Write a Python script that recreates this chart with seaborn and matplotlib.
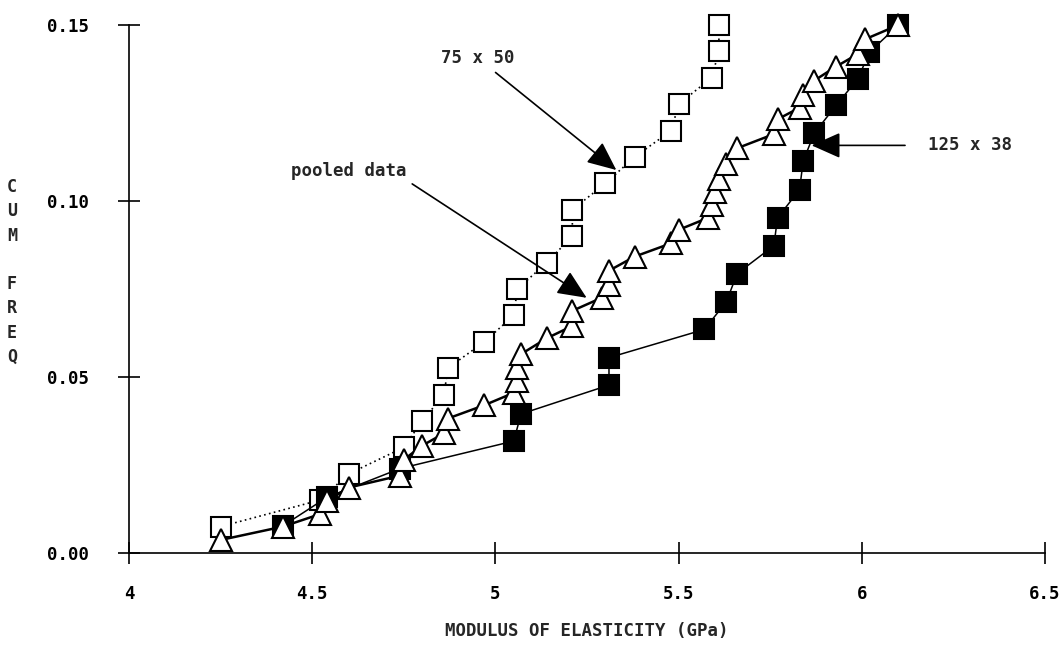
import numpy as np
import pandas as pd
import matplotlib
matplotlib.use('Agg')
import matplotlib.pyplot as plt
import seaborn as sns

# ─── Data ────────────────────────────────────────────────
# 75 x 50 (open squares, dotted line)
x_75x50 = [4.25, 4.52, 4.60, 4.75, 4.80, 4.86, 4.87, 4.97, 5.05, 5.06,
           5.14, 5.21, 5.21, 5.30, 5.38, 5.48, 5.50, 5.59, 5.61, 5.61]
y_75x50 = [0.0075, 0.0150, 0.0225, 0.0300, 0.0375, 0.0450, 0.0525, 0.0600, 0.0675, 0.0750,
           0.0825, 0.0900, 0.0975, 0.1050, 0.1125, 0.1200, 0.1275, 0.1350, 0.1425, 0.1500]

# 125 x 38 (filled squares, thin solid line)
x_125x38 = [4.42, 4.54, 4.74, 5.05, 5.07, 5.31, 5.31, 5.57, 5.63, 5.66,
            5.76, 5.77, 5.83, 5.84, 5.87, 5.93, 5.99, 6.02, 6.10]
y_125x38 = [0.0077, 0.0158, 0.0240, 0.0318, 0.0395, 0.0477, 0.0555, 0.0635, 0.0713, 0.0794,
            0.0873, 0.0952, 0.1032, 0.1113, 0.1192, 0.1272, 0.1348, 0.1422, 0.1500]

# pooled data (open triangles, thick solid line)
x_pooled = [4.25, 4.42, 4.52, 4.54, 4.60, 4.74, 4.75, 4.80, 4.86, 4.87,
            4.97, 5.05, 5.06, 5.06, 5.07, 5.14, 5.21, 5.21, 5.29, 5.31,
            5.31, 5.38, 5.48, 5.50, 5.58, 5.59, 5.60, 5.61, 5.63, 5.66,
            5.76, 5.77, 5.83, 5.84, 5.87, 5.93, 5.99, 6.01, 6.10]
y_pooled = [0.0037, 0.0075, 0.0110, 0.0148, 0.0186, 0.0220, 0.0265, 0.0305, 0.0340, 0.0382,
            0.0420, 0.0455, 0.0490, 0.0525, 0.0565, 0.0610, 0.0645, 0.0688, 0.0725, 0.0760,
            0.0802, 0.0842, 0.0880, 0.0918, 0.0952, 0.0988, 0.1025, 0.1063, 0.1105, 0.1150,
            0.1190, 0.1232, 0.1265, 0.1302, 0.1342, 0.1382, 0.1418, 0.1460, 0.1500]

x_ticks = [4, 4.5, 5, 5.5, 6, 6.5]
x_tick_labels = ['4', '4.5', '5', '5.5', '6', '6.5']
y_ticks = [0.00, 0.05, 0.10, 0.15]
y_tick_labels = ['0.00', '0.05', '0.10', '0.15']

# ─── Style ───────────────────────────────────────────────
sns.set_style('white')
plt.rcParams['font.family'] = ['DejaVu Sans Mono']
plt.rcParams['font.weight'] = 'bold'

fig = plt.figure(figsize=(10.62, 6.51), dpi=100)
ax = fig.add_axes([129 / 1062, 1 - 553 / 651, (1045 - 129) / 1062, (553 - 25) / 651])

common = dict(ax=ax, estimator=None, sort=False, color='black', clip_on=False)

sns.lineplot(x=x_75x50, y=y_75x50, linestyle=(0, (1, 2)), lw=1.2,
             marker='s', ms=14.5, mfc='white', mec='black', mew=1.5, zorder=2, **common)
sns.lineplot(x=x_125x38, y=y_125x38, lw=1.1,
             marker='s', ms=14.5, mfc='black', mec='black', mew=1.5, zorder=3, **common)
sns.lineplot(x=x_pooled, y=y_pooled, lw=1.8,
             marker='^', ms=15.5, mfc='white', mec='black', mew=1.5, zorder=4, **common)

ax.set_xlim(4, 6.5)
ax.set_ylim(0, 0.15)
ax.set_xticks(x_ticks)
ax.set_xticklabels(x_tick_labels)
ax.set_yticks(y_ticks)
ax.set_yticklabels(y_tick_labels)
ax.tick_params(axis='both', direction='inout', length=16, width=1.2,
               labelsize=12.5, colors='black', bottom=True, left=True)
ax.tick_params(axis='y', pad=21)
ax.tick_params(axis='x', pad=15)

for side in ['top', 'right']:
    ax.spines[side].set_visible(False)
for side in ['left', 'bottom']:
    ax.spines[side].set_linewidth(1.2)
    ax.spines[side].set_color('black')

ax.set_xlabel('MODULUS OF ELASTICITY (GPa)', fontsize=12.5, fontweight='bold', labelpad=14)
fig.text(12 / 1062, 1 - 272 / 651, 'C\nU\nM\n\nF\nR\nE\nQ', ha='center', va='center',
         fontsize=12, fontweight='bold', linespacing=1.45)

# ─── Annotations ─────────────────────────────────────────
arrow = dict(arrowstyle='-|>,head_length=0.9,head_width=0.4', mutation_scale=20,
             color='black', lw=1.2, shrinkB=0)
ax.annotate('75 x 50', xy=(5.33, 0.1088), xytext=(4.953, 0.1405),
            ha='center', va='center', fontsize=12.5, fontweight='bold',
            arrowprops=dict(arrow, shrinkA=2))
ax.annotate('pooled data', xy=(5.249, 0.0725), xytext=(4.60, 0.1085),
            ha='center', va='center', fontsize=12.5, fontweight='bold',
            arrowprops=dict(arrow, shrinkA=2, relpos=(0.95, 0.2)))
ax.annotate('125 x 38', xy=(5.863, 0.1158), xytext=(6.18, 0.1158),
            ha='left', va='center', fontsize=12.5, fontweight='bold',
            arrowprops=dict(arrow, shrinkA=14, relpos=(0, 0.5)))

fig.savefig('out.png', dpi=100)
